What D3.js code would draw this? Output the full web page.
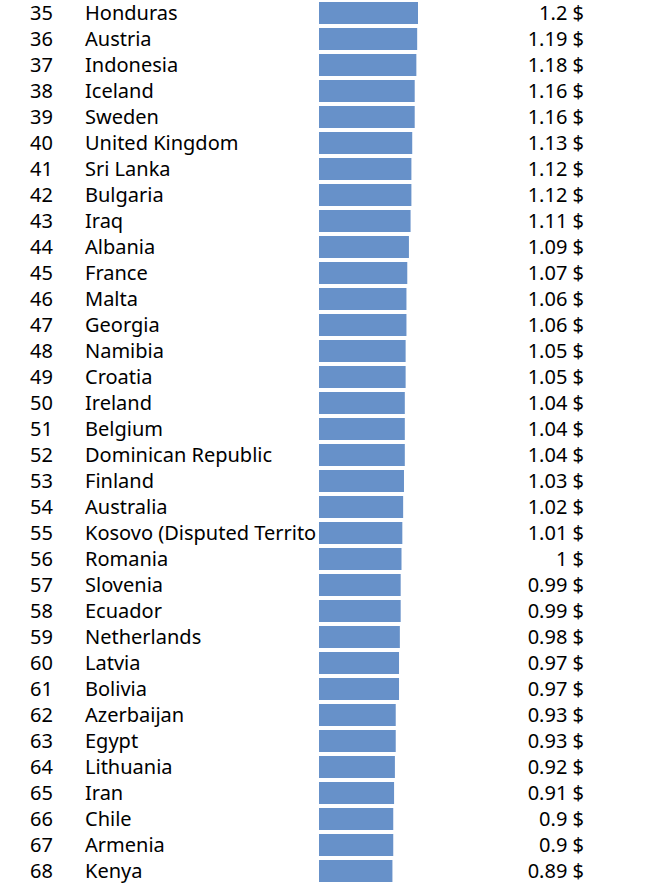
<!DOCTYPE html>
<html><head><meta charset="utf-8">
<script src="https://cdn.jsdelivr.net/npm/d3@7"></script>
<style>body{margin:0;background:#fff}svg{display:block}</style>
</head><body>
<script>
const ranks = [35,36,37,38,39,40,41,42,43,44,45,46,47,48,49,50,51,52,53,54,55,56,57,58,59,60,61,62,63,64,65,66,67,68];
const countries = ["Honduras","Austria","Indonesia","Iceland","Sweden","United Kingdom","Sri Lanka","Bulgaria","Iraq","Albania","France","Malta","Georgia","Namibia","Croatia","Ireland","Belgium","Dominican Republic","Finland","Australia","Kosovo (Disputed Territory)","Romania","Slovenia","Ecuador","Netherlands","Latvia","Bolivia","Azerbaijan","Egypt","Lithuania","Iran","Chile","Armenia","Kenya"];
const values = [1.2,1.19,1.18,1.16,1.16,1.13,1.12,1.12,1.11,1.09,1.07,1.06,1.06,1.05,1.05,1.04,1.04,1.04,1.03,1.02,1.01,1,0.99,0.99,0.98,0.97,0.97,0.93,0.93,0.92,0.91,0.9,0.9,0.89];

const W = 650, H = 885;
const svg = d3.select("body").append("svg").attr("width", W).attr("height", H);
const y = d3.scaleBand().domain(d3.range(values.length)).range([0, 26*values.length]).paddingInner(4/26).paddingOuter(2/26);
const x = d3.scaleLinear().domain([0, 1.2]).range([319, 418]);
const font = "'Noto Sans', sans-serif";
const fs = 20;

const rows = svg.selectAll("g.row").data(values).join("g").attr("class","row");
rows.append("rect")
  .attr("x", x(0)).attr("y", (d,i)=>y(i))
  .attr("width", d=>x(d)-x(0)).attr("height", y.bandwidth())
  .attr("fill", "#6791c9");
rows.append("text").attr("x", 30).attr("y", (d,i)=>y(i)+y.bandwidth()/2+7)
  .attr("font-family", font).attr("font-size", fs).attr("fill","#000")
  .text((d,i)=>ranks[i]);
rows.append("text").attr("x", 85).attr("y", (d,i)=>y(i)+y.bandwidth()/2+7)
  .attr("font-family", font).attr("font-size", fs).attr("fill","#000")
  .text((d,i)=>countries[i])
  .each(function(){
    const t = d3.select(this);
    let s = t.text();
    while (s.length > 0 && this.getComputedTextLength() > 232) {
      s = s.slice(0, -1);
      t.text(s);
    }
  });
rows.append("text").attr("x", 584).attr("y", (d,i)=>y(i)+y.bandwidth()/2+7)
  .attr("text-anchor","end")
  .attr("font-family", font).attr("font-size", fs).attr("fill","#000")
  .text(d=>d+" $");
</script>
</body></html>
